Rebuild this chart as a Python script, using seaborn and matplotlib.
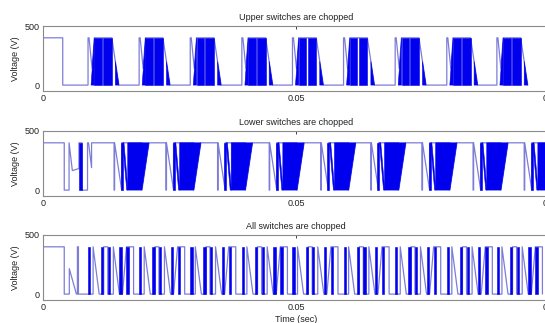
import numpy as np
import pandas as pd
import matplotlib
matplotlib.use("Agg")
import matplotlib.pyplot as plt
import seaborn as sns

# ---------------- axis text ----------------
titles = ["Upper switches are chopped", "Lower switches are chopped", "All switches are chopped"]
x_ticks = [0, 0.05, 0.1]
x_tick_labels = ["0", "0.05", "0.1"]
y_ticks = [0, 500]
y_tick_labels = ["0", "500"]

# ---------------- upper switches chopped (times in ms, volts) ----------------
upper_start_t = [0.0, 3.9, 3.9]
upper_start_v = [400, 400, 0]
upper_burst_t0 = [8.9, 19.0, 29.1, 39.3, 49.3, 59.4, 69.6, 79.8, 89.7]
upper_trace_dt = [0.0, 0.0, 0.2, 0.8, 1.25, 4.7, 5.4, 6.1]
upper_trace_v = [0, 400, 400, 140, 400, 400, 200, 0]
upper_block_dt = [[0.6, 1.25, 1.25], [1.25, 1.25, 2.75, 2.75], [3.0, 3.0, 4.7, 4.7], [5.4, 5.4, 6.1]]
upper_block_v = [[0, 400, 0], [0, 400, 400, 0], [0, 400, 400, 0], [0, 200, 0]]

# ---------------- lower switches chopped ----------------
lower_start_t = [0.0, 4.2, 4.2, 5.15, 5.15, 5.8, 6.9, 7.1, 7.1, 7.7, 7.7, 8.8, 8.8, 9.0, 9.6, 9.6]
lower_start_v = [400, 400, 0, 0, 400, 165, 180, 180, 400, 400, 0, 0, 400, 400, 190, 400]
lower_start_block_t = [7.1, 7.1, 7.7, 7.7]
lower_start_block_v = [0, 400, 400, 0]
lower_burst_t0 = [14.05, 24.3, 34.5, 44.7, 54.9, 64.8, 74.9, 85.0, 95.1]
lower_trace_dt = [0.0, 0.0, 0.1, 0.1, 1.5, 1.5, 5.5, 5.5, 6.9]
lower_trace_v = [400, 0, 0, 400, 0, 400, 400, 0, 400]
lower_block_dt = [[1.3, 1.3, 1.7, 1.7], [1.7, 1.95, 2.75, 2.5], [2.7, 2.7, 6.9, 5.5]]
lower_block_v = [[0, 400, 400, 0], [400, 400, 0, 0], [0, 400, 400, 0]]

# ---------------- all switches chopped ----------------
all_start_t = [0.0, 4.2, 4.2, 5.2, 5.2, 6.6, 6.8, 6.8, 7.0, 7.0]
all_start_v = [400, 400, 0, 0, 215, 0, 0, 400, 400, 0]
all_period_t0 = [8.9, 19.0, 29.1, 39.3, 49.3, 59.4, 69.6, 79.8, 89.7]
all_trace_dt = [0.0, 1.0, 1.0, 2.2, 3.1, 3.1, 3.9, 3.9, 5.0, 5.0, 6.2, 6.8, 7.6, 9.0, 9.0]
all_trace_v = [0, 0, 400, 0, 0, 400, 400, 0, 0, 400, 0, 0, 400, 400, 0]
all_pulse_dt = [0.0, 2.6, 3.9, 6.2, 7.6]
all_pulse_width = 0.45


def build_trace(start_t, start_v, t0s, dt, v):
    t_out, v_out = list(start_t), list(start_v)
    for t0 in t0s:
        t_out += [t0 + d for d in dt]
        v_out += list(v)
    return pd.DataFrame({"time": np.array(t_out) / 1000.0, "volt": v_out})


thin_color = "#7d7dd8"
fill_color = "#0000ee"

sns.set_style("white")
plt.rcParams["font.family"] = ["Liberation Sans", "DejaVu Sans"]

fig = plt.figure(figsize=(5.45, 3.23), dpi=100)
left, width = 43 / 545, 506 / 545
bottoms = [1 - 91 / 323, 1 - 196 / 323, 1 - 300 / 323]
height = 65 / 323
axes = [fig.add_axes([left, b, width, height]) for b in bottoms]

traces = [
    build_trace(upper_start_t, upper_start_v, upper_burst_t0, upper_trace_dt, upper_trace_v),
    build_trace(lower_start_t, lower_start_v, lower_burst_t0, lower_trace_dt, lower_trace_v),
    build_trace(all_start_t, all_start_v, all_period_t0, all_trace_dt, all_trace_v),
]

# solid regions of dense switching
ax = axes[0]
for t0 in upper_burst_t0:
    for bdt, bv in zip(upper_block_dt, upper_block_v):
        ax.fill([(t0 + d) / 1000 for d in bdt], bv, color=fill_color, lw=0.4, zorder=3)

ax = axes[1]
ax.fill([t / 1000 for t in lower_start_block_t], lower_start_block_v, color=fill_color, lw=0.4, zorder=3)
for t0 in lower_burst_t0:
    for bdt, bv in zip(lower_block_dt, lower_block_v):
        ax.fill([(t0 + d) / 1000 for d in bdt], bv, color=fill_color, lw=0.4, zorder=3)

ax = axes[2]
for t0 in all_period_t0:
    for d in all_pulse_dt:
        a = (t0 + d) / 1000
        b = (t0 + d + all_pulse_width) / 1000
        ax.fill([a, a, b, b], [0, 400, 400, 0], color=fill_color, lw=0.4, zorder=3)

for ax, df, title in zip(axes, traces, titles):
    sns.lineplot(data=df, x="time", y="volt", sort=False, estimator=None,
                 color=thin_color, lw=0.9, ax=ax, zorder=2)
    ax.set_xlim(0, 0.1)
    ax.set_ylim(-50, 500)
    ax.set_xticks(x_ticks)
    ax.set_xticklabels(x_tick_labels)
    ax.set_yticks(y_ticks)
    ax.set_yticklabels(y_tick_labels)
    ax.tick_params(direction="in", top=True, right=True, length=2.5, width=0.6,
                   labelsize=6.5, pad=2.5, colors="#222222")
    for s in ax.spines.values():
        s.set_color("#8a8a8a")
        s.set_linewidth(0.8)
    ax.set_title(title, fontsize=6.5, pad=4, color="#222222")
    ax.set_xlabel("")
    ax.set_ylabel("Voltage (V)", fontsize=6.5, color="#222222")
    ax.yaxis.set_label_coords(-0.046, 0.5)

axes[2].set_xlabel("Time (sec)", fontsize=6.5, labelpad=1.5, color="#222222")

fig.savefig("out.png", dpi=100, facecolor="white")
